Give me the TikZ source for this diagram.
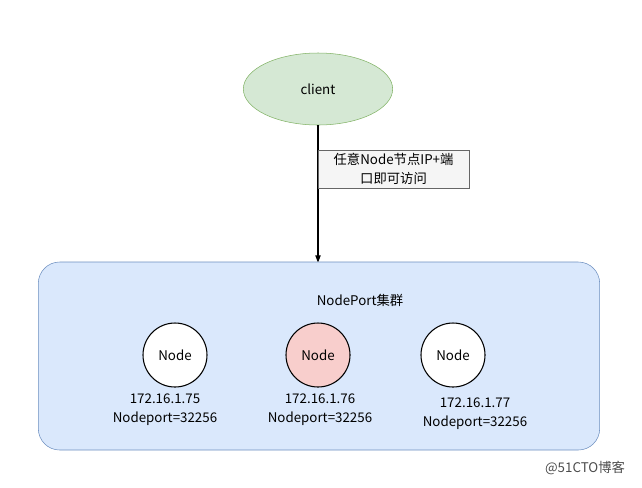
\documentclass[tikz,border=0pt]{standalone}
\usepackage{fontspec}
\setmainfont{Noto Sans CJK SC}
\usetikzlibrary{arrows.meta,positioning,shapes.geometric}
\definecolor{greenfill}{HTML}{D5E8D4}
\definecolor{greenline}{HTML}{82B366}
\definecolor{bluefill}{HTML}{DAE8FC}
\definecolor{blueline}{HTML}{6C8EBF}
\definecolor{redfill}{HTML}{F8CECC}
\begin{document}
\begin{tikzpicture}[x=0.75pt,y=-0.75pt,>={Stealth[round]},font=\fontsize{10}{14}\selectfont,
	nodecirc/.style={circle,draw,thick,minimum size=48pt,fill=white},
	iplabel/.style={align=center,inner sep=1pt}]
	\useasboundingbox (0,0) rectangle (642,487);
	
	\node[ellipse,draw=greenline,fill=greenfill,minimum width=112pt,minimum height=54pt] (client) at (318,89) {client};
	\node[draw=blueline,rounded corners=16pt,fill=bluefill,minimum width=421pt,minimum height=141pt] (cluster) at (319,356) {};
	\node (title) at (360,300) {NodePort集群};
	
	\node[nodecirc] (N1) at (175,355) {Node};
	\node[nodecirc,fill=redfill] (N2) at (318,355) {Node};
	\node[nodecirc] (N3) at (453,355) {Node};
	
	\node[iplabel] (L1) at (165,410) {172.16.1.75\\Nodeport=32256};
	\node[iplabel] (L2) at (320,410) {172.16.1.76\\Nodeport=32256};
	\node[iplabel] (L3) at (475,414) {172.16.1.77\\Nodeport=32256};
	
	\draw[->,thick] (client) -- (cluster.north -| client);
	\node[draw=black!60,fill=black!4,align=center,inner sep=2.5pt,minimum width=113pt,anchor=north west,line width=0.3pt] (tip) at (318,150) {任意Node节点IP+端\\口即可访问};
	
	\node[text=black!70] (mark) at (585,468) {@51CTO博客};
\end{tikzpicture}
\end{document}
